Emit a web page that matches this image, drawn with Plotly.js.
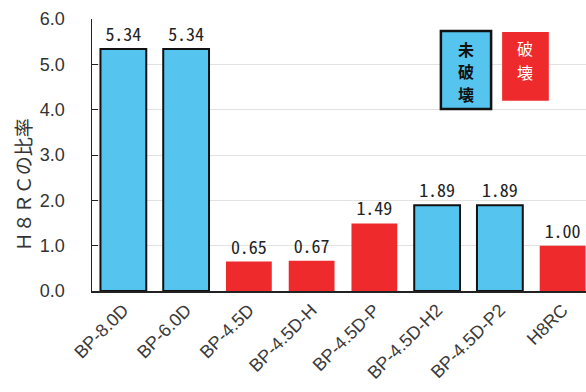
<!DOCTYPE html>
<html>
<head>
<meta charset="utf-8">
<script src="https://cdn.plot.ly/plotly-3.0.1.min.js"></script>
<style>
  html, body { margin: 0; padding: 0; background: #fff; overflow: hidden; }
  #chart { width: 600px; height: 392px; }
</style>
</head>
<body>
<div id="chart"></div>
<script>
// H8RC ratio per specimen
const specimens = ['BP-8.0D', 'BP-6.0D', 'BP-4.5D', 'BP-4.5D-H', 'BP-4.5D-P', 'BP-4.5D-H2', 'BP-4.5D-P2', 'H8RC'];
const ratios = [5.34, 5.34, 0.65, 0.67, 1.49, 1.89, 1.89, 1.00];
// true = 破壊 (failed), false = 未破壊 (not failed)
const failed = [false, false, true, true, true, false, false, true];
const yTicks = [0, 1, 2, 3, 4, 5, 6];

const BLUE = '#55C4EF';
const RED = '#EE2A2C';

const trace = {
  type: 'bar',
  x: specimens,
  y: ratios,
  width: 0.73,
  marker: {
    color: failed.map(f => f ? RED : BLUE),
    line: {
      color: failed.map(f => f ? RED : '#111'),
      width: failed.map(f => f ? 0 : 2)
    }
  },
  texttemplate: '%{y:.2f}',
  textposition: 'outside',
  cliponaxis: false,
  textfont: { family: 'Noto Sans Mono CJK JP, DejaVu Sans Mono, monospace', size: 18, color: '#222' },
  hoverinfo: 'x+y'
};

const fontJP = 'Noto Sans CJK JP, sans-serif';

// legend boxes drawn as labelled rectangles, one character per line
function stackedLabel(chars, xc, yTop, step, color, bold, size) {
  return chars.split('').map((ch, i) => ({
    xref: 'paper', yref: 'paper', x: xc, y: yTop - i * step,
    xanchor: 'center', yanchor: 'middle', showarrow: false,
    borderpad: 0,
    text: bold ? '<b>' + ch + '</b>' : ch,
    font: { family: fontJP, size: size, color: color }
  }));
}

const layout = {
  width: 600,
  height: 392,
  margin: { l: 92, r: 6, t: 19, b: 101 },
  paper_bgcolor: '#fff',
  plot_bgcolor: '#fff',
  showlegend: false,
  font: { family: 'Liberation Sans, Arial, sans-serif', color: '#333' },
  xaxis: {
    type: 'category',
    range: [-0.5, 7.5],
    tickangle: -45,
    tickfont: { size: 18, color: '#3a3a3a' },
    showline: true,
    linecolor: '#222',
    linewidth: 1.5,
    ticks: '',
    showgrid: false,
    zeroline: false
  },
  yaxis: {
    range: [0, 6],
    tickvals: yTicks,
    ticktext: yTicks.map(v => v.toFixed(1)),
    tickfont: { size: 18, color: '#333' },
    ticks: 'inside',
    ticklen: 6,
    tickcolor: '#222',
    tickwidth: 1,
    showline: true,
    linecolor: '#222',
    linewidth: 1.5,
    showgrid: true,
    gridcolor: '#e2e2e2',
    gridwidth: 1,
    zeroline: false,
    ticklabelstandoff: 22
  },
  shapes: [
    { type: 'rect', xref: 'paper', yref: 'paper', x0: 0.695, x1: 0.795, y0: 0.669, y1: 0.956,
      fillcolor: BLUE, line: { color: '#111', width: 2.5 } },
    { type: 'rect', xref: 'paper', yref: 'paper', x0: 0.817, x1: 0.910, y0: 0.699, y1: 0.952,
      fillcolor: RED, line: { width: 0 } }
  ],
  annotations: [
    ...stackedLabel('未破壊', 0.745, 0.89, 0.083, '#111', true, 16),
    ...stackedLabel('破壊', 0.8635, 0.893, 0.088, '#fff', false, 16),
    { xref: 'paper', yref: 'paper', x: -0.137, y: 0.39, xanchor: 'center', yanchor: 'middle',
      text: 'Ｈ８ＲＣの比率', textangle: -90, showarrow: false,
      font: { family: fontJP, size: 19, color: '#333' } }
  ]
};

Plotly.newPlot('chart', [trace], layout, { staticPlot: true, displayModeBar: false });
</script>
</body>
</html>
